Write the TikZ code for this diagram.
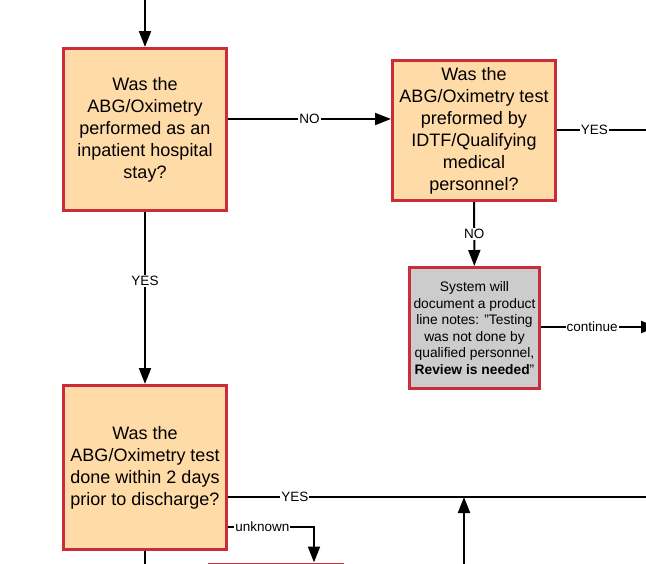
\documentclass[tikz,border=0pt]{standalone}
\usepackage{fontspec}
\setmainfont{Liberation Sans}
\usetikzlibrary{arrows.meta}
\definecolor{boxred}{HTML}{C92D39}
\definecolor{boxfill}{HTML}{FFDBA8}
\definecolor{notegray}{HTML}{CCCCCC}
\begin{document}
\begin{tikzpicture}[x=1pt, y=-1pt,
    question/.style={draw=boxred, line width=3pt, fill=boxfill, align=center,
      inner sep=0pt, font=\fontsize{18}{22}\selectfont},
    note/.style={draw=boxred, line width=3pt, fill=notegray, align=center,
      inner sep=0pt, font=\fontsize{13.8}{16.5}\selectfont},
    flow/.style={line width=2pt},
    arr/.style={flow, -{Triangle[length=16pt, width=12pt]}},
    lbl/.style={fill=white, inner sep=1pt, font=\fontsize{13.5}{15}\selectfont}]
  \useasboundingbox (0,0) rectangle (646,563);
  \clip (0,0) rectangle (646,563);

  % question boxes
  \node [question, minimum width=163pt, minimum height=162pt] (inpatient) at (145,129.5)
    {Was the\\ABG/Oximetry\\performed as an\\inpatient hospital\\stay?};
  \node [question, minimum width=163pt, minimum height=140pt] (idtf) at (474,130.5)
    {Was the\\ABG/Oximetry test\\preformed by\\IDTF/Qualifying\\medical\\personnel?};
  \node [note, minimum width=130pt, minimum height=121pt] (review) at (474.5,328)
    {System will\\document a product\\line notes: "Testing\\was not done by\\qualified personnel,\\\textbf{Review is needed}"};
  \node [question, minimum width=163pt, minimum height=164pt] (discharge) at (145,467.5)
    {Was the\\ABG/Oximetry test\\done within 2 days\\prior to discharge?};
  \node [question, minimum width=133pt, minimum height=60pt, anchor=north] (unknownbox) at (276,562.5) {};

  % loose ends
  \coordinate (entry) at (145,0);
  \coordinate (yesout) at (646,130);
  \coordinate (contout) at (657,327);
  \coordinate (merge) at (464,497);
  \coordinate (mergein) at (464,570);
  \coordinate (yesright) at (646,497);
  \coordinate (downout) at (145,570);

  % connectors
  \draw [arr] (entry) -- (inpatient);
  \draw [arr] (inpatient.east |- 0,119) -- (idtf.west |- 0,119)
    node [lbl, midway] {NO};
  \draw [flow] (idtf.east |- yesout) -- (yesout)
    node [lbl, pos=0.42] {YES};
  \draw [arr] (idtf) -- (review)
    node [lbl, midway] {NO};
  \draw [arr] (review.east |- contout) -- (contout)
    node [lbl, pos=0.44] {continue};
  \draw [arr] (inpatient) -- (discharge)
    node [lbl, pos=0.4] {YES};
  \draw [flow] (discharge.east |- merge) -- (yesright)
    node [lbl, pos=0.16] {YES};
  \draw [arr] (mergein) -- (merge);
  \draw [arr] (discharge.east |- 0,527) -| (unknownbox.north -| 314,0)
    node [lbl, pos=0.2] {unknown};
  \draw [flow] (discharge) -- (downout);
\end{tikzpicture}
\end{document}
